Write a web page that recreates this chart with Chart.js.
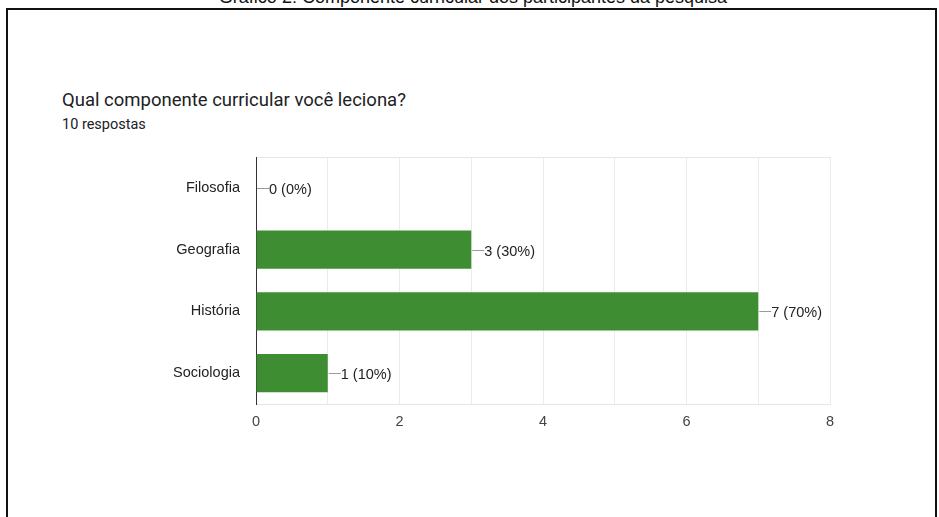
<!DOCTYPE html>
<html lang="pt-BR">
<head>
    <meta charset="UTF-8">
    <title>Componente curricular</title>
    <script src="https://cdn.jsdelivr.net/npm/chart.js"></script>
    <style>
        body { margin: 0; background: #fff; }
        .pagina { position: relative; width: 939px; height: 517px; overflow: hidden; }
        .legenda {
            position: absolute; left: 0; width: 946px; top: -12px;
            text-align: center; font: 18px "Liberation Sans", Arial, sans-serif;
            line-height: 18px; color: #111; white-space: nowrap;
        }
        .moldura {
            position: absolute; left: 6px; top: 8px; width: 927px; height: 520px;
            border: 2px solid #111;
        }
        .pergunta {
            position: absolute; left: 62px; top: 91px;
            font: 18.5px Roboto, sans-serif; line-height: 18px; color: #202124;
        }
        .respostas {
            position: absolute; left: 62px; top: 118px;
            font: 14.5px Roboto, sans-serif; line-height: 14px; color: #202124;
        }
        canvas { position: absolute; left: 0; top: 0; }
    </style>
</head>
<body>
    <div class="pagina">
        <div class="legenda">Gráfico 2: Componente curricular dos participantes da pesquisa</div>
        <div class="moldura"></div>
        <div class="pergunta">Qual componente curricular você leciona?</div>
        <div class="respostas">10 respostas</div>
        <canvas id="grafico" width="939" height="517"></canvas>
    </div>

<script>
var componentes = ['Filosofia', 'Geografia', 'História', 'Sociologia'];
var respostas = [0, 3, 7, 1];
var totalRespostas = 10;

var fonte = '"Liberation Sans", Arial, sans-serif';

// rotulo "n (x%)" com tracinho na ponta da barra
var rotulos = {
    id: 'rotulos',
    afterDatasetsDraw(chart) {
        var ctx = chart.ctx;
        var meta = chart.getDatasetMeta(0);
        ctx.save();
        ctx.font = '14.5px ' + fonte;
        ctx.textBaseline = 'middle';
        meta.data.forEach(function (barra, i) {
            var v = respostas[i];
            var x = barra.x, y = Math.round(barra.y) + 0.5;
            ctx.strokeStyle = '#9a9a9a';
            ctx.lineWidth = 1;
            ctx.beginPath();
            ctx.moveTo(x + 1, y);
            ctx.lineTo(x + 13, y);
            ctx.stroke();
            ctx.fillStyle = '#222';
            ctx.fillText(v + ' (' + Math.round(v / totalRespostas * 100) + '%)', x + 13, y + 1);
        });
        ctx.restore();
    }
};

new Chart(document.getElementById('grafico'), {
    type: 'bar',
    data: {
        labels: componentes,
        datasets: [{
            data: respostas,
            backgroundColor: '#3e8d32',
            borderWidth: 0,
            categoryPercentage: 0.8,
            barPercentage: 0.77
        }]
    },
    options: {
        indexAxis: 'y',
        responsive: false,
        animation: false,
        devicePixelRatio: 1,
        layout: { padding: { left: 0, top: 157, right: 109, bottom: 73 } },
        plugins: { legend: { display: false }, tooltip: { enabled: false } },
        scales: {
            x: {
                min: 0,
                max: 8,
                afterFit: function (s) { s.height = 40; },
                grid: {
                    drawTicks: false,
                    color: function (c) { return c.tick && c.tick.value === 0 ? 'transparent' : '#ebebeb'; }
                },
                border: { color: '#e6e6e6' },
                ticks: {
                    stepSize: 1,
                    autoSkip: false,
                    maxRotation: 0,
                    padding: 9,
                    color: '#444',
                    font: { family: fonte, size: 14.5 },
                    callback: function (v) { return v % 2 === 0 ? v : ''; }
                }
            },
            y: {
                afterFit: function (s) { s.width = 256; },
                grid: {
                    drawTicks: false,
                    color: function (c) { return c.index === 0 ? '#e6e6e6' : 'transparent'; }
                },
                border: { color: '#333' },
                ticks: {
                    padding: 16,
                    color: '#222',
                    font: { family: fonte, size: 14.5 }
                }
            }
        }
    },
    plugins: [rotulos]
});
</script>
</body>
</html>
